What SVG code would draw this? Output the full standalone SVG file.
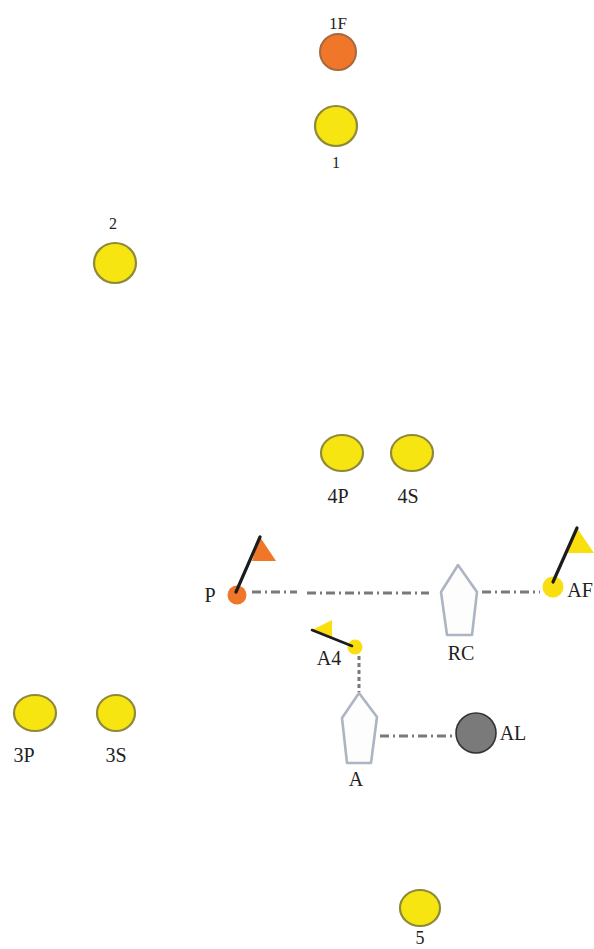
<svg xmlns="http://www.w3.org/2000/svg" width="594" height="949" viewBox="0 0 594 949">
<style>
text{font-family:"Liberation Serif","DejaVu Serif",serif;fill:#222;text-anchor:middle;font-size:20px}
.s{font-size:16px}
.y{fill:#f7e512;stroke:#8f8a3a;stroke-width:2.2}
.o{fill:#f0762a;stroke:#a5693f;stroke-width:2}
.d{fill:#f9df10}
.pole{stroke:#1c1c1c;stroke-width:3.2;stroke-linecap:round;fill:none}
.boat{fill:#fdfdfe;stroke:#adb5c2;stroke-width:2.6;stroke-linejoin:round}
.c{stroke:#77797b;stroke-width:3;fill:none;stroke-dasharray:9 4 2 4}
</style>
<rect width="594" height="949" fill="#fff"/>
<g id="connectors">
<path class="c" d="M252 592H297"/>
<path class="c" d="M307 593H429"/>
<path class="c" d="M482 592H540"/>
<path class="c" d="M380 736H452"/>
<path class="c" style="stroke-dasharray:4 3" d="M359 656V692"/>
</g>
<g id="n1F"><circle class="o" cx="338" cy="52" r="18"/><text class="s" x="338" y="29" style="font-size:17px">1F</text></g>
<g id="n1"><ellipse class="y" cx="336" cy="126" rx="21" ry="20"/><text class="s" x="336" y="168">1</text></g>
<g id="n2"><ellipse class="y" cx="115" cy="263" rx="21" ry="20"/><text class="s" x="113" y="229">2</text></g>
<g id="n4P"><ellipse class="y" cx="342" cy="453" rx="21" ry="18"/><text x="338" y="503">4P</text></g>
<g id="n4S"><ellipse class="y" cx="412" cy="453" rx="21" ry="18"/><text x="408" y="503">4S</text></g>
<g id="n3P"><ellipse class="y" cx="35" cy="713" rx="21" ry="18"/><text x="24" y="762">3P</text></g>
<g id="n3S"><ellipse class="y" cx="116" cy="713" rx="19" ry="18"/><text x="116" y="762">3S</text></g>
<g id="n5"><ellipse class="y" cx="420" cy="908" rx="20" ry="18"/><text x="420" y="944" style="font-size:18px">5</text></g>
<g id="nP"><path class="o" style="stroke:none" d="M260 537L276 561H252Z"/><circle class="o" style="stroke:none" cx="237" cy="595" r="9.5"/><path class="pole" d="M236 592L260 537"/><text x="210" y="602">P</text></g>
<g id="nAF"><path class="d" d="M577 528L594 553H566Z"/><circle class="d" cx="553" cy="587" r="10.5"/><path class="pole" d="M553 582L577 528"/><text x="580" y="597">AF</text></g>
<g id="nA4"><path class="d" d="M312 630L332 620V637Z"/><circle class="d" cx="355" cy="647" r="7.5"/><path class="pole" style="stroke-width:2.6" d="M352 646L312 630"/><text x="329" y="665">A4</text></g>
<g id="nRC"><path class="boat" d="M458 565L441 592L447 635H472L477 592Z"/><text x="461" y="660">RC</text></g>
<g id="nA"><path class="boat" d="M359 693L342 718L347 763H371L377 717Z"/><text x="356" y="786">A</text></g>
<g id="nAL"><circle cx="476" cy="733" r="20" fill="#7a7a7a" stroke="#333" stroke-width="1.6"/><text x="513" y="740">AL</text></g>
</svg>
